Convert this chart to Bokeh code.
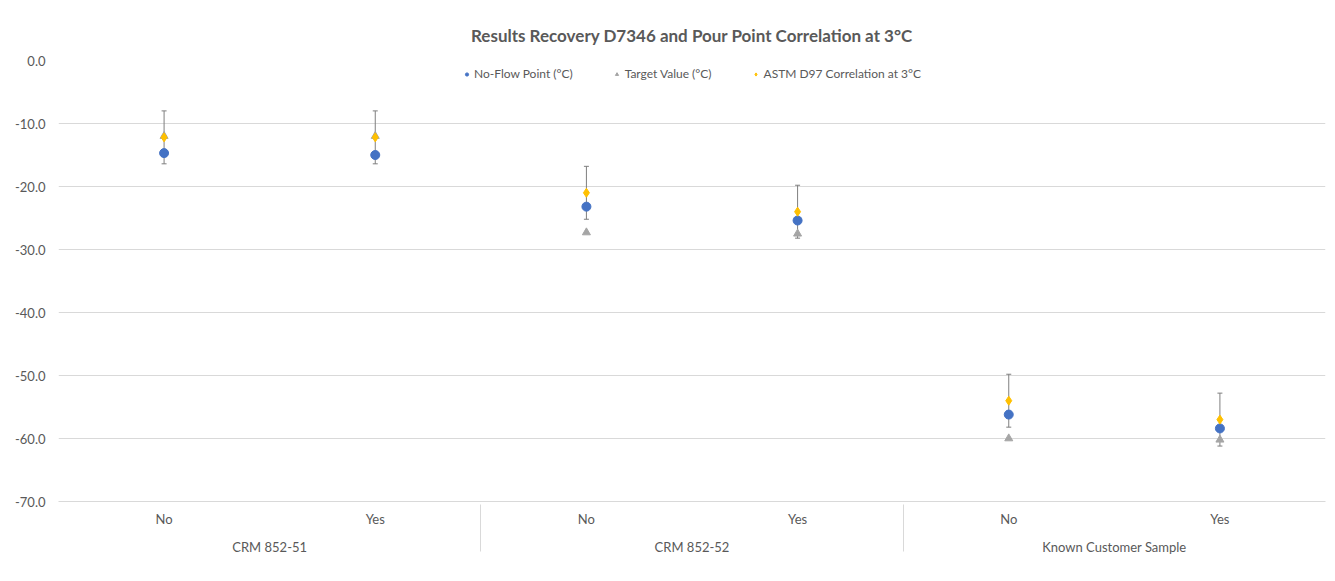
from bokeh.plotting import figure
from bokeh.models import (FactorRange, Range1d, Whisker, ColumnDataSource, Legend,
                          LegendItem, NumeralTickFormatter, FixedTicker, TeeHead)
from bokeh.embed import file_html
from bokeh.resources import INLINE

# ---- data ----
groups = ["CRM 852-51", "CRM 852-51", "CRM 852-52", "CRM 852-52",
          "Known Customer Sample", "Known Customer Sample"]
subgroups = ["No", "Yes", "No", "Yes", "No", "Yes"]
no_flow = [-14.7, -15.0, -23.2, -25.4, -56.2, -58.4]
target = [-12.0, -12.0, -27.3, -27.5, -60.0, -60.2]
astm = [-12.2, -12.2, -21.0, -24.0, -54.0, -57.0]
astm_err = [4.2, 4.2, 4.2, 4.2, 4.2, 4.2]
y_ticks = [0, -10, -20, -30, -40, -50, -60, -70]

FONT = "Lato"
TXT = "#595959"
GRID = "#d9d9d9"

factors = list(zip(groups, subgroups))
src = ColumnDataSource(dict(
    x=factors, no_flow=no_flow, target=target, astm=astm,
    lo=[a - e for a, e in zip(astm, astm_err)],
    hi=[a + e for a, e in zip(astm, astm_err)],
))

p = figure(frame_width=1267, frame_height=441,
           output_backend="svg", toolbar_location=None,
           x_range=FactorRange(*factors, group_padding=0, factor_padding=0,
                               subgroup_padding=0, range_padding=0),
           y_range=Range1d(-70, 0),
           title="Results Recovery D7346 and Pour Point Correlation at 3°C",
           min_border_left=58, min_border_right=2, min_border_top=60,
           min_border_bottom=0)

p.title.align = "center"
p.title.text_font = FONT
p.title.text_font_size = "17px"
p.title.text_font_style = "bold"
p.title.text_color = TXT
p.title.standoff = 29

p.outline_line_color = None
p.background_fill_color = "white"
p.border_fill_color = "white"

# grid
p.xgrid.grid_line_color = None
p.ygrid.grid_line_color = GRID
p.ygrid.grid_line_width = 1

# y axis
p.yaxis.ticker = FixedTicker(ticks=y_ticks)
p.yaxis.formatter = NumeralTickFormatter(format="0.0")
p.yaxis.axis_line_color = None
p.yaxis.major_tick_line_color = None
p.yaxis.minor_tick_line_color = None
p.yaxis.major_tick_out = 0
p.yaxis.major_label_standoff = 13
p.yaxis.major_label_text_font = FONT
p.yaxis.major_label_text_font_size = "13px"
p.yaxis.major_label_text_color = TXT

# x axis
xa = p.xaxis[0]
xa.axis_line_color = GRID
xa.major_tick_line_color = None
xa.minor_tick_line_color = None
xa.major_tick_out = 0
xa.major_tick_in = 0
xa.major_label_standoff = 9
xa.major_label_text_font = FONT
xa.major_label_text_font_size = "13px"
xa.major_label_text_color = TXT
xa.group_text_font = FONT
xa.group_text_font_size = "13px"
xa.group_text_font_style = "normal"
xa.group_text_color = TXT
xa.separator_line_color = GRID
xa.separator_line_width = 1

# error bars
w = Whisker(source=src, base="x", lower="lo", upper="hi",
            line_color="#7f7f7f", line_width=1,
            upper_head=TeeHead(size=5, line_color="#7f7f7f", line_width=1),
            lower_head=TeeHead(size=5, line_color="#7f7f7f", line_width=1))
p.add_layout(w)

r_blue = p.scatter("x", "no_flow", source=src, marker="circle", size=9,
                   fill_color="#4472C4", line_color="#4472C4")
r_gray = p.scatter("x", "target", source=src, marker="triangle", size=8,
                   fill_color="#A5A5A5", line_color="#A5A5A5")
r_yel = p.scatter("x", "astm", source=src, marker="diamond", size=9,
                  fill_color="#FFC000", line_color="#FFC000")

legend = Legend(items=[
    LegendItem(label="No-Flow Point (°C)", renderers=[r_blue]),
    LegendItem(label="Target Value (°C)", renderers=[r_gray]),
    LegendItem(label="ASTM D97 Correlation at 3°C", renderers=[r_yel]),
], orientation="horizontal", location="top_center",
    label_text_font=FONT, label_text_font_size="12px", label_text_color=TXT,
    glyph_width=8, glyph_height=8, label_standoff=4, spacing=40,
    label_height=10, padding=2, margin=6, border_line_color=None,
    background_fill_color="white", background_fill_alpha=1)
p.add_layout(legend)

open("out.html", "w").write(file_html(p, INLINE))
